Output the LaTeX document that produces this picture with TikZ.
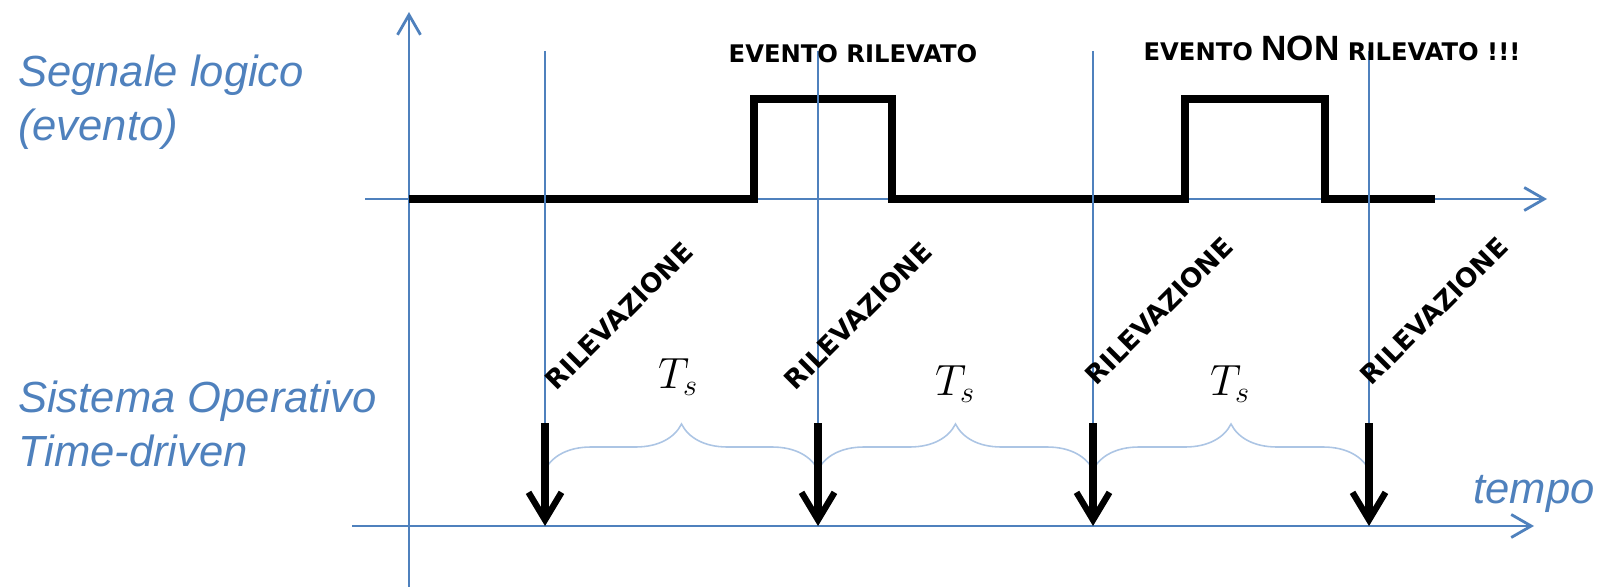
\documentclass[tikz,border=0pt]{standalone}
\usepackage{fontspec}
\setmainfont{Liberation Sans}
\newfontfamily\heavyfont{DejaVu Sans}
\usepackage{tikz}
\usetikzlibrary{positioning,arrows.meta,decorations.pathreplacing}
\definecolor{axisblue}{RGB}{79,129,189}
\definecolor{braceblue}{RGB}{172,197,228}

\begin{document}
\begin{tikzpicture}[x=0.02cm,y=-0.02cm,
  axis/.style={axisblue,line width=1.3pt,-{Straight Barb[length=4mm,width=4.6mm,line width=1.6pt]}},
  tick/.style={axisblue,line width=1pt},
  signal/.style={line width=5pt,line join=miter},
  probe/.style={line width=4.5pt,-{Straight Barb[length=5.5mm,width=6.6mm,line width=3.6pt]}},
  period/.style={braceblue,line width=0.9pt,decorate,decoration={brace,amplitude=0.92cm}},
  rilev/.style={font=\heavyfont\bfseries\fontsize{15}{15}\selectfont,rotate=45},
  event/.style={font=\heavyfont\bfseries\fontsize{13.8}{14}\selectfont,anchor=base},
  side/.style={axisblue,align=left,anchor=west,font=\fontsize{24.8}{31}\selectfont\itshape}]
\useasboundingbox (0,0) rectangle (1598,587);

\coordinate (yfoot) at (409,587);
\coordinate (ytip) at (409,12);
\coordinate (sig0) at (365,199);
\coordinate (sigend) at (1547,199);
\coordinate (os0) at (352,526);
\coordinate (osend) at (1534,526);
\draw[axis] (yfoot) -- (ytip);
\draw[axis] (sig0) -- (sigend);
\draw[axis] (os0) -- (osend);

\draw[signal] (409,199) -- (754,199) -- (754,99) -- (892,99) -- (892,199)
  -- (1185,199) -- (1185,99) -- (1325,99) -- (1325,199) -- (1435,199);

\foreach \t/\dx/\cy [count=\i] in {545/74/316,818/40/316,1093/66/311,1369/65/311} {
  \coordinate (top\i) at (\t,51);
  \coordinate (hit\i) at (\t,423);
  \coordinate (brace\i) at (\t,470);
  \coordinate (base\i) at (\t,526);
  \draw[tick] (top\i) -- (hit\i);
  \node[rilev] (rilev\i) at (\t+\dx,\cy) {RILEVAZIONE};
}
\foreach \i/\j in {1/2,2/3,3/4}
  \draw[period] (brace\i) -- (brace\j);
\foreach \i in {1,...,4}
  \draw[probe] (hit\i) -- (base\i);

\foreach \x/\y [count=\i] in {678/377,955/384,1230/384}
  \node[font=\fontsize{26}{26}\selectfont] (ts\i) at (\x,\y) {$T_s$};

\node[event] (seen) at (853,63) {EVENTO RILEVATO};
\node[event] (missed) at (1332,61)
  {EVENTO {\rmfamily\fontsize{20}{20}\selectfont NON} RILEVATO !!!};

\node[side] (siglbl) at (12,102) {Segnale logico\\(evento)};
\node[side] (oslbl) at (12,424) {Sistema Operativo\\Time-driven};
\node[side,anchor=center] (tempo) at (1534,494) {tempo};
\end{tikzpicture}
\end{document}
